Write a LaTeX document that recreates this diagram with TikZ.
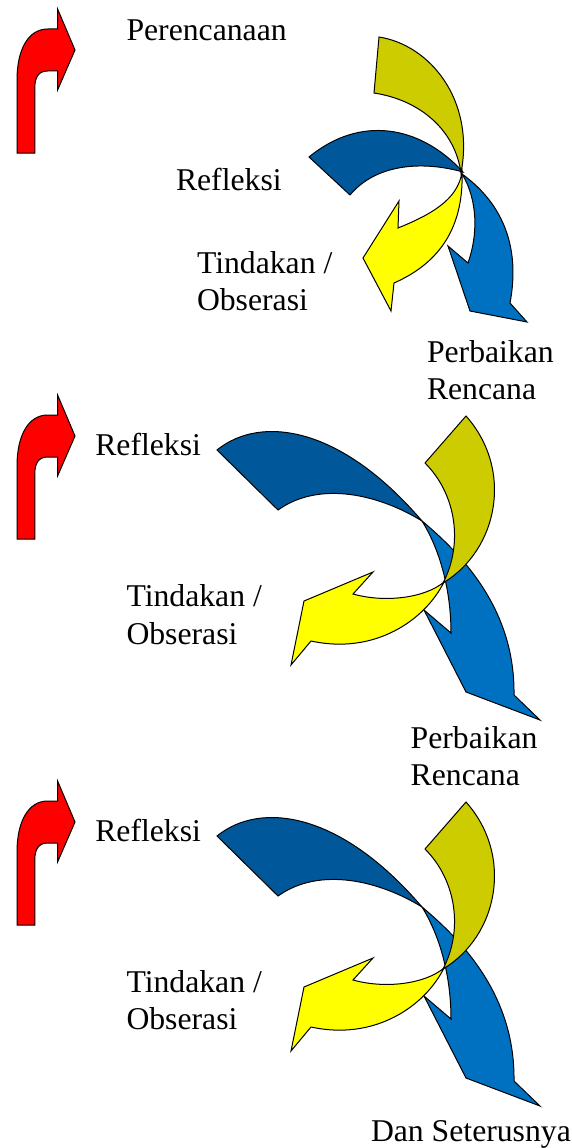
\documentclass[tikz,border=0pt]{standalone}
\usepackage{fontspec}
\setmainfont{Liberation Serif}
\definecolor{arrred}{RGB}{255,0,0}
\definecolor{darkblue}{RGB}{0,88,154}
\definecolor{lightblue}{RGB}{0,112,192}
\definecolor{olivey}{RGB}{204,204,0}
\definecolor{brightyellow}{RGB}{255,255,0}
\begin{document}
\begin{tikzpicture}[x=1pt,y=-1pt,
  shp/.style={draw=black,line width=1pt,line join=miter},
  redarrow/.style={shp,fill=arrred},
  darkband/.style={shp,fill=darkblue},
  lightband/.style={shp,fill=lightblue},
  oliveband/.style={shp,fill=olivey},
  yellowband/.style={shp,fill=brightyellow},
  lbl/.style={anchor=base west,inner sep=0pt,outer sep=0pt,font=\fontsize{31.7}{37}\selectfont}]
\useasboundingbox (0,0) rectangle (572,1148);

% ---------- red arrows (three, same shape) ----------
\foreach \dy in {0,386,772}{
  \begin{scope}[shift={(0,\dy)}]
    \path[redarrow] (17,153) -- (17,80) .. controls (17,50) and (28,29) .. (47.7,29)
      -- (57.6,29) -- (57.6,9) -- (75,50) -- (57.6,90) -- (57.6,71) -- (47.7,71)
      .. controls (38,71) and (34.8,78) .. (34.8,88) -- (34.8,153) -- cycle;
  \end{scope}
}

% ---------- section 1 ----------
\path[darkband] (309,157) .. controls (360,115) and (420,125) .. (463,172)
  .. controls (420,160) and (375,165) .. (350,195) -- cycle;
\path[lightband] (462,174) .. controls (505,205) and (520,250) .. (510,303)
  -- (527,322) -- (470,311) -- (448,246) -- (468,263)
  .. controls (478,235) and (478,200) .. (462,174) -- cycle;
\path[oliveband] (379,37) .. controls (430,45) and (475,100) .. (461,173)
  .. controls (455,130) and (420,100) .. (374,93) -- cycle;
\path[yellowband] (462,172) .. controls (464,232) and (435,265) .. (394,283)
  -- (391,311) -- (363,258) -- (399,201) -- (398,228)
  .. controls (430,215) and (458,200) .. (462,172) -- cycle;

\node[lbl] (plan) at (126.5,40.7) {Perencanaan};
\node[lbl] (ref1) at (176,190.7) {Refleksi};
\node[lbl] (act1a) at (197,273) {Tindakan /};
\node[lbl] (act1b) at (197,310) {Obserasi};
\node[lbl] (rev1a) at (427,362.7) {Perbaikan};
\node[lbl] (rev1b) at (427,399.5) {Rencana};

% ---------- sections 2 and 3 (same arrows) ----------
\foreach \dy in {0,386}{
  \begin{scope}[shift={(0,\dy)}]
    \path[darkband] (217,450) .. controls (260,415) and (340,425) .. (422,521)
      .. controls (380,495) and (320,480) .. (278,510) -- cycle;
    \path[lightband] (422,521) .. controls (475,565) and (515,620) .. (514,695)
      -- (540,720) -- (466,692) -- (424,610) -- (451,633)
      .. controls (451,590) and (440,550) .. (422,521) -- cycle;
    \path[oliveband] (466,416) -- (425,463) .. controls (457,495) and (463,545) .. (443,583)
      .. controls (498,550) and (514,470) .. (466,416) -- cycle;
    \path[yellowband] (444,582) .. controls (425,620) and (375,655) .. (311,641)
      -- (291,665) -- (304,601) -- (373,572) -- (353,594)
      .. controls (385,603) and (425,598) .. (444,582) -- cycle;
  \end{scope}
}

\node[lbl] (ref2) at (95.3,455) {Refleksi};
\node[lbl] (act2a) at (126.5,606.7) {Tindakan /};
\node[lbl] (act2b) at (126.5,644) {Obserasi};
\node[lbl] (rev2a) at (410.7,748.3) {Perbaikan};
\node[lbl] (rev2b) at (410.7,785.3) {Rencana};

\node[lbl] (ref3) at (95.3,841) {Refleksi};
\node[lbl] (act3a) at (126.5,992.7) {Tindakan /};
\node[lbl] (act3b) at (126.5,1029.3) {Obserasi};
\node[lbl] (etc) at (371,1141.7) {Dan Seterusnya};
\end{tikzpicture}
\end{document}
